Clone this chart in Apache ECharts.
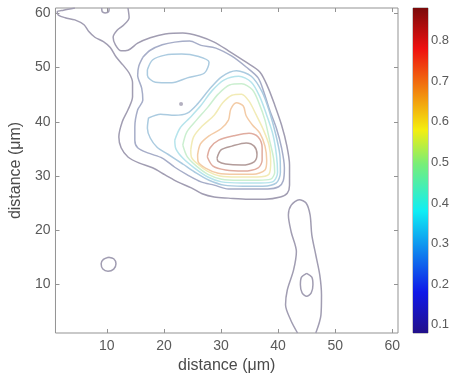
<!DOCTYPE html>
<html><head><meta charset="utf-8">
<script src="https://cdn.jsdelivr.net/npm/echarts@6/dist/echarts.min.js"></script>
<style>html,body{margin:0;padding:0;background:#fff}#c{width:456px;height:383px}</style>
</head><body><div id="c"></div>
<script>
// ---------------- data (µm) ----------------
const axisRange = [1, 61];
const xTicks = [10, 20, 30, 40, 50, 60];
const yTicks = [10, 20, 30, 40, 50, 60];
const colorbarTicks = [0.1, 0.2, 0.3, 0.4, 0.5, 0.6, 0.7, 0.8];
const colorbarRange = [0.08, 0.88];
const xTitle = 'distance (\u03bcm)';
const yTitle = 'distance (\u03bcm)';

// level 0.1 contours
const lvl010_main = [[13.7,61.0],[13.9,59.2],[13.0,57.9],[11.8,56.9],[11.1,55.6],[11.5,54.2],[12.5,53.1],[13.7,53.2],[15.4,54.5],[17.6,55.5],[20.2,56.2],[23.3,56.4],[26.2,55.8],[28.8,54.7],[31.3,53.1],[34.4,51.0],[36.8,49.2],[38.2,46.4],[39.4,43.1],[40.6,39.4],[41.5,35.7],[42.0,32.0],[42.0,28.3],[41.6,26.8],[40.4,26.1],[37.7,25.7],[34.8,25.7],[31.3,25.9],[28.8,26.1],[26.7,26.7],[24.8,27.8],[22.4,28.9],[20.2,30.2],[18.0,31.5],[15.6,32.4],[13.7,33.5],[12.5,35.2],[12.1,37.2],[12.7,40.0],[13.7,42.2],[14.5,44.6],[14.5,47.2],[13.9,49.0],[12.8,50.5],[11.6,52.0],[10.6,53.7],[9.4,54.8],[7.9,55.6],[6.8,56.7],[6.0,57.9],[4.4,58.8],[2.7,59.2],[1.5,59.7],[1.3,60.3],[2.4,60.6],[4.4,61.0]];
const lvl010_topNotch = [[9.1,61.0],[9.2,60.3],[9.7,60.1],[10.3,60.3],[10.4,61.0]];
const lvl010_leftSpot = [[10.3,15.0],[11.2,14.7],[11.6,13.8],[11.2,12.8],[10.2,12.4],[9.3,12.8],[9.0,13.8],[9.4,14.6]];
const lvl010_rightBlob = [[43.4,1.0],[42.2,3.4],[41.3,6.2],[41.6,8.9],[42.7,12.6],[43.2,16.0],[42.3,19.6],[41.8,22.8],[42.3,24.6],[43.7,25.6],[44.9,25.0],[45.6,22.8],[45.9,19.1],[46.6,15.4],[47.3,11.7],[47.6,8.0],[47.5,4.3],[46.6,1.0]];
const lvl010_dot = [[23.0,43.3]];
// level 0.2 contours
const lvl020_main = [[16.3,51.9],[17.6,53.2],[19.7,54.2],[21.9,54.7],[24.5,54.9],[26.5,54.1],[29.1,53.6],[31.9,52.1],[34.4,50.1],[36.5,48.1],[37.5,45.5],[38.5,42.2],[39.7,38.8],[40.6,35.2],[41.1,31.5],[40.9,29.1],[40.1,28.0],[38.2,27.6],[34.8,27.6],[31.3,27.6],[28.8,28.3],[26.5,28.9],[24.1,30.2],[21.9,31.6],[19.7,33.3],[17.3,34.2],[15.4,35.2],[14.9,36.6],[14.9,39.0],[15.4,42.2],[16.3,44.0],[16.1,46.2],[15.4,48.6],[15.6,50.3]];
const lvl020_rightSpot = [[45.0,12.0],[45.9,11.3],[46.1,9.9],[45.8,8.4],[45.0,7.8],[44.2,8.4],[43.9,9.9],[44.1,11.3]];
// level 0.3 contours
const lvl030_upperLobe = [[17.1,49.6],[18.0,51.4],[20.2,52.3],[23.1,52.5],[25.9,52.1],[27.9,51.0],[27.1,49.0],[24.1,48.1],[21.4,47.2],[18.5,47.3],[17.1,48.6]];
const lvl030_main = [[17.3,40.7],[19.4,41.4],[21.9,41.2],[24.1,41.6],[25.9,43.3],[27.9,45.9],[30.1,48.3],[32.7,49.4],[35.3,48.4],[37.2,45.5],[38.5,41.8],[39.6,37.6],[40.3,33.9],[40.4,30.7],[39.7,28.7],[37.3,28.1],[33.9,28.1],[30.5,28.3],[27.9,29.2],[25.7,30.5],[23.3,32.2],[20.7,34.0],[18.8,35.3],[17.6,37.0],[17.1,38.8]];
// level 0.4
const lvl040_main = [[21.9,36.6],[22.8,38.8],[24.5,40.7],[26.4,42.9],[28.4,45.7],[30.5,47.7],[33.1,48.4],[35.3,47.3],[36.8,44.6],[38.0,41.2],[39.1,37.6],[39.7,33.9],[39.9,30.7],[39.2,29.0],[37.0,28.7],[33.6,28.7],[30.1,28.9],[27.7,29.8],[25.3,31.5],[23.3,33.3],[22.1,35.0]];
// level 0.5
const lvl050_main = [[23.3,35.7],[24.0,38.1],[25.7,40.3],[27.7,42.7],[29.5,45.1],[31.5,46.8],[33.6,47.0],[35.5,45.9],[36.7,43.3],[37.7,40.3],[38.5,36.6],[39.2,33.3],[39.4,30.7],[38.7,29.4],[36.5,29.2],[33.2,29.2],[30.1,29.4],[27.7,30.3],[25.7,31.8],[24.1,33.5]];
// level 0.6
const lvl060_main = [[24.7,34.8],[25.2,37.2],[26.7,39.2],[28.8,41.2],[30.3,43.5],[31.9,44.9],[33.6,45.1],[34.9,43.8],[36.1,41.4],[37.3,38.8],[38.4,35.7],[38.7,32.6],[38.4,30.3],[36.3,29.8],[32.9,29.8],[29.8,30.0],[27.6,30.9],[25.9,32.2],[24.8,33.5]];
// level 0.7
const lvl070_main = [[25.9,33.9],[26.4,35.9],[27.9,37.4],[30.0,38.7],[31.3,40.3],[31.7,42.3],[32.7,43.5],[33.9,42.9],[34.4,41.1],[35.5,39.4],[36.8,37.9],[37.7,35.5],[38.0,32.9],[37.7,31.1],[35.6,30.3],[32.5,30.3],[29.5,30.5],[27.2,31.5],[26.0,32.6]];
// level 0.8
const lvl080_main = [[27.6,33.5],[28.1,35.2],[29.6,36.6],[32.2,37.4],[34.9,37.9],[36.5,37.2],[37.2,35.2],[37.2,32.9],[36.5,31.5],[33.9,30.9],[30.8,31.1],[28.6,31.8]];
// level 0.85
const lvl085_main = [[29.3,33.3],[30.0,34.8],[31.9,35.5],[34.4,36.1],[35.8,35.5],[36.3,34.0],[35.8,32.6],[33.6,32.0],[30.8,32.2],[29.5,32.7]];

// ---------------- styling ----------------
const levelColors = {
  '0.1': '#a19db2', '0.2': '#a6adc8', '0.3': '#abcbe0', '0.4': '#b6e4ec',
  '0.5': '#cbefd0', '0.6': '#f2ebb6', '0.7': '#f3cba6', '0.8': '#e0ac9f', '0.85': '#b39c9a'
};
const contours = [
  {d: lvl010_main, lv: '0.1', closed: false},
  {d: lvl010_topNotch, lv: '0.1', closed: false},
  {d: lvl010_leftSpot, lv: '0.1', closed: true},
  {d: lvl010_rightBlob, lv: '0.1', closed: false},
  {d: lvl020_main, lv: '0.2', closed: true},
  {d: lvl020_rightSpot, lv: '0.1', closed: true},
  {d: lvl030_upperLobe, lv: '0.3', closed: true},
  {d: lvl030_main, lv: '0.3', closed: true},
  {d: lvl040_main, lv: '0.4', closed: true},
  {d: lvl050_main, lv: '0.5', closed: true},
  {d: lvl060_main, lv: '0.6', closed: true},
  {d: lvl070_main, lv: '0.7', closed: true},
  {d: lvl080_main, lv: '0.8', closed: true},
  {d: lvl085_main, lv: '0.85', closed: true}
];
const FONT = 'Liberation Sans, Arial, sans-serif';
const TXT = '#5a5a5a';
const FRAME = '#939393';

const series = contours.map(c => ({
  type: 'line', xAxisIndex: 0, yAxisIndex: 0,
  data: c.closed ? c.d.concat([c.d[0]]) : c.d,
  symbol: 'none', smooth: 0.3, silent: true,
  lineStyle: {color: levelColors[c.lv], width: 1.5}
}));
series.push({
  type: 'scatter', xAxisIndex: 0, yAxisIndex: 0, data: lvl010_dot,
  symbolSize: 4, itemStyle: {color: '#a09cb0'}, silent: true
});
series.push({
  type: 'bar', xAxisIndex: 2, yAxisIndex: 2, stack: 'cb', barWidth: '100%',
  data: [colorbarRange[0]], itemStyle: {color: 'rgba(0,0,0,0)'}, silent: true
});
series.push({
  type: 'bar', xAxisIndex: 2, yAxisIndex: 2, stack: 'cb', barWidth: '100%',
  data: [colorbarRange[1] - colorbarRange[0]], silent: true,
  itemStyle: {color: new echarts.graphic.LinearGradient(0, 1, 0, 0, [
    {offset: 0, color: '#22108a'}, {offset: 0.125, color: '#1018e8'},
    {offset: 0.375, color: '#10eef4'}, {offset: 0.52, color: '#78ee78'},
    {offset: 0.625, color: '#f4ee10'}, {offset: 0.875, color: '#ee1010'},
    {offset: 1, color: '#7a0a0a'}])}
});

const tickAxis = (extra) => Object.assign({
  type: 'value', min: axisRange[0], max: axisRange[1], gridIndex: 0,
  splitLine: {show: false},
  axisLine: {show: false},
  axisTick: {show: true, inside: true, length: 4, lineStyle: {color: FRAME}},
  axisLabel: {show: false}
}, extra);

const chart = echarts.init(document.getElementById('c'), null, {renderer: 'canvas'});
chart.setOption({
  animation: false,
  backgroundColor: '#fff',
  grid: [
    {left: 48, top: 8, width: 350, height: 325, show: true, borderColor: FRAME, borderWidth: 1, backgroundColor: 'transparent'},
    {left: 413, top: 8, width: 15, height: 325, show: true, borderColor: FRAME, borderWidth: 1, backgroundColor: 'transparent'}
  ],
  xAxis: [
    tickAxis({position: 'bottom',
      axisTick: {show: true, inside: true, length: 4, customValues: xTicks, lineStyle: {color: FRAME}},
      axisLabel: {show: true, customValues: xTicks, color: TXT, fontSize: 14, fontFamily: FONT, margin: 6},
      name: xTitle, nameLocation: 'middle', nameGap: 17,
      nameTextStyle: {color: '#4a4a4a', fontSize: 16, fontFamily: FONT, verticalAlign: 'top'}}),
    tickAxis({position: 'top',
      axisTick: {show: true, inside: true, length: 4, customValues: xTicks, lineStyle: {color: FRAME}}}),
    {type: 'category', gridIndex: 1, data: ['cb'], show: false}
  ],
  yAxis: [
    tickAxis({position: 'left',
      axisTick: {show: true, inside: true, length: 4, customValues: yTicks, lineStyle: {color: FRAME}},
      axisLabel: {show: true, customValues: yTicks, color: TXT, fontSize: 14, fontFamily: FONT, margin: 5},
      name: yTitle, nameLocation: 'middle', nameGap: 31,
      nameTextStyle: {color: '#4a4a4a', fontSize: 16, fontFamily: FONT}}),
    tickAxis({position: 'right',
      axisTick: {show: true, inside: true, length: 4, customValues: yTicks, lineStyle: {color: FRAME}}}),
    {type: 'value', gridIndex: 1, position: 'right', min: colorbarRange[0], max: colorbarRange[1],
      splitLine: {show: false}, axisLine: {show: false},
      axisTick: {show: true, inside: true, length: 3, customValues: colorbarTicks, lineStyle: {color: '#666'}},
      axisLabel: {show: true, customValues: colorbarTicks, color: TXT, fontSize: 13, fontFamily: FONT, margin: 3,
        formatter: v => v.toFixed(1)}},
    {type: 'value', gridIndex: 1, position: 'left', min: colorbarRange[0], max: colorbarRange[1],
      splitLine: {show: false}, axisLine: {show: false}, axisLabel: {show: false},
      axisTick: {show: true, inside: true, length: 3, customValues: colorbarTicks, lineStyle: {color: '#666'}}}
  ],
  series: series
});
</script></body></html>
